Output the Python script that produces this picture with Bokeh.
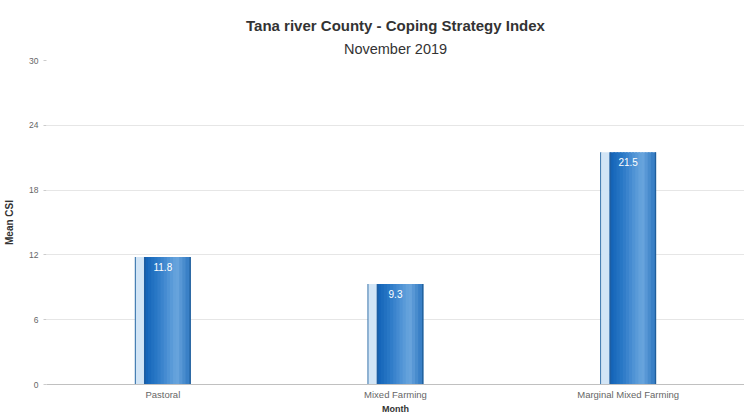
from bokeh.plotting import figure
from bokeh.models import ColumnDataSource, FactorRange, Range1d, Title, FixedTicker, LabelSet
from bokeh.core.properties import value
from bokeh.transform import dodge
from bokeh.embed import file_html
from bokeh.resources import INLINE

# Livelihood zones and their mean Coping Strategy Index
zones = ["Pastoral", "Mixed Farming", "Marginal Mixed Farming"]
mean_csi = [11.8, 9.3, 21.5]
y_ticks = [0, 6, 12, 18, 24, 30]

src = ColumnDataSource(dict(zone=zones, csi=mean_csi, lbl=[f"{v:.1f}" for v in mean_csi]))

FONT = "Liberation Sans"

p = figure(
    x_range=FactorRange(*zones, range_padding=0),
    y_range=Range1d(0, 30),
    width=744, height=416,
    output_backend="svg", toolbar_location=None,
    min_border_left=46, min_border_right=0, min_border_top=60, min_border_bottom=32,
)
p.outline_line_color = None
p.background_fill_color = "white"

# Titles: subtitle first so it sits nearest the plot
p.add_layout(Title(text="November 2019", align="center", text_font=FONT,
                   text_font_size="14.5px", text_font_style="normal", text_color="#333333",
                   standoff=8), "above")
p.add_layout(Title(text="Tana river County - Coping Strategy Index", align="center",
                   text_font=FONT, text_font_size="15px",
                   text_font_style="bold", text_color="#333333", standoff=2), "above")


def lerp(c1, c2, t):
    a = [int(c1[i:i + 2], 16) for i in (1, 3, 5)]
    b = [int(c2[i:i + 2], 16) for i in (1, 3, 5)]
    return "#%02x%02x%02x" % tuple(round(x + (y - x) * t) for x, y in zip(a, b))


# Column shading built from thin vertical strips (offsets in category units)
left, right = -0.073, 0.115
n = 14
w = (right - left) / n
stops = ["#1565b9", "#2a78c6", "#4a8fd3", "#6ba6de", "#3a80c6"]
strips = [(-0.1175, 0.006, "#2f6ea8"), (-0.098, 0.036, "#d2e5f6")]
for i in range(n):
    t = i / (n - 1) * (len(stops) - 1)
    k = min(int(t), len(stops) - 2)
    strips.append((left + w * (i + 0.5), w * 1.6, lerp(stops[k], stops[k + 1], t - k)))
strips.append((-0.077, 0.008, "#1d5ea3"))
strips.append((0.1175, 0.006, "#1f5e9c"))

for off, wd, col in strips:
    p.vbar(x=dodge("zone", off, range=p.x_range), top="csi", width=wd, source=src,
           fill_color=col, line_color=None)

p.add_layout(LabelSet(x="zone", y="csi", text="lbl", source=src, text_color="white",
                      text_font=value(FONT), text_font_size="10px",
                      text_align="center", text_baseline="top", y_offset=-6))

# Axes
p.yaxis.ticker = FixedTicker(ticks=y_ticks)
p.yaxis.axis_label = "Mean CSI"
p.yaxis.axis_label_text_font = FONT
p.yaxis.axis_label_text_font_size = "10px"
p.yaxis.axis_label_text_font_style = "bold"
p.yaxis.axis_label_text_color = "#333333"
p.yaxis.axis_label_standoff = 11
p.yaxis.axis_line_color = None
p.yaxis.major_tick_line_color = "#cccccc"
p.yaxis.major_tick_out = 3
p.yaxis.major_tick_in = 0
p.yaxis.minor_tick_line_color = None
p.yaxis.major_label_text_font = FONT
p.yaxis.major_label_text_font_size = "8.5px"
p.yaxis.major_label_text_color = "#666666"
p.yaxis.major_label_standoff = 5

p.xaxis.axis_label = "Month"
p.xaxis.axis_label_text_font = FONT
p.xaxis.axis_label_text_font_size = "9px"
p.xaxis.axis_label_text_font_style = "bold"
p.xaxis.axis_label_text_color = "#333333"
p.xaxis.axis_label_standoff = 1
p.xaxis.axis_line_color = "#c0c0c0"
p.xaxis.major_tick_line_color = None
p.xaxis.major_tick_out = 0
p.xaxis.major_label_text_font = FONT
p.xaxis.major_label_text_font_size = "9.5px"
p.xaxis.major_label_text_color = "#666666"
p.xaxis.major_label_standoff = 4

p.xgrid.grid_line_color = None
p.ygrid.grid_line_color = "#e6e6e6"

open("out.html", "w").write(file_html(p, INLINE))
